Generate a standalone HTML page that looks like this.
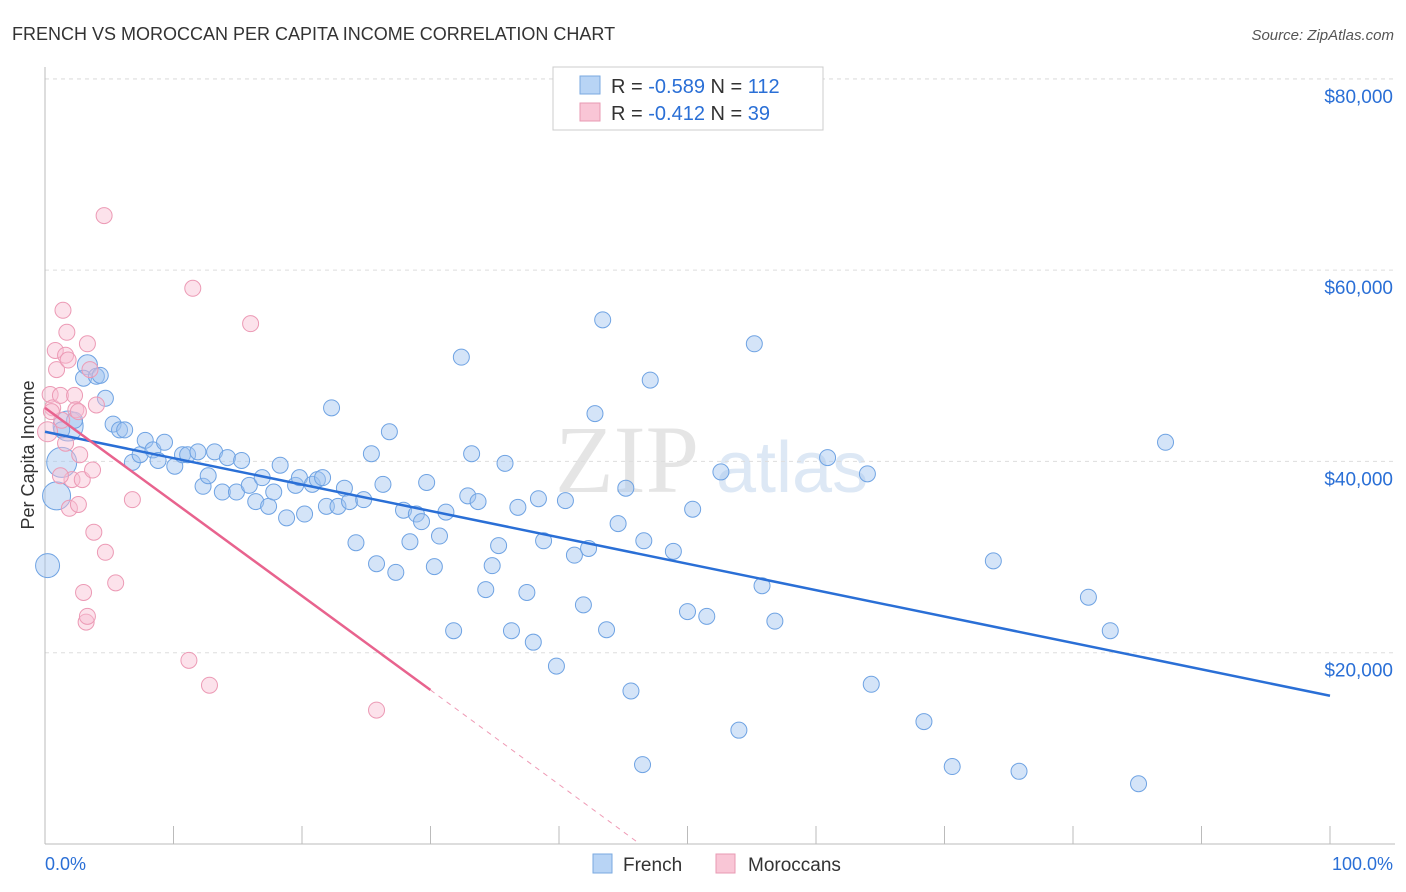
<!DOCTYPE html>
<html><head><meta charset="utf-8"><style>
body{margin:0;background:#fff;font-family:"Liberation Sans",sans-serif;}
svg{display:block}
</style></head><body>
<svg id="chart" width="1406" height="892">
<text x="12" y="40" font-size="18" fill="#333">FRENCH VS MOROCCAN PER CAPITA INCOME CORRELATION CHART</text>
<text x="1394" y="40" font-size="15" fill="#555" font-style="italic" text-anchor="end">Source: ZipAtlas.com</text>
<text x="555" y="492" font-size="96" fill="#e5e5e5" font-family="Liberation Serif,serif">ZIP</text>
<text x="716" y="492" font-size="72" fill="#dde8f5">atlas</text>
<text x="34" y="455" font-size="18" fill="#333" text-anchor="middle" transform="rotate(-90 34 455)">Per Capita Income</text>
<g id="grid"></g><g id="pts"></g><g id="trend"></g>
<g>
<rect x="553" y="67" width="270" height="63" fill="#fff" stroke="#ccc"/>
<rect x="580" y="76" width="20" height="18" fill="#b8d4f5" stroke="#7aa9e0"/>
<rect x="580" y="103" width="20" height="18" fill="#f9c6d6" stroke="#e89ab3"/>
<text x="611" y="93" font-size="20" fill="#333">R = <tspan fill="#2a6fd6">-0.589</tspan>   N = <tspan fill="#2a6fd6">112</tspan></text>
<text x="611" y="120" font-size="20" fill="#333">R =  <tspan fill="#2a6fd6">-0.412</tspan>   N =  <tspan fill="#2a6fd6">39</tspan></text>
</g>
<rect x="593" y="854" width="19" height="19" fill="#b8d4f5" stroke="#7aa9e0"/>
<text x="623" y="871" font-size="19" fill="#333">French</text>
<rect x="716" y="854" width="19" height="19" fill="#f9c6d6" stroke="#e89ab3"/>
<text x="748" y="871" font-size="19" fill="#333">Moroccans</text>
<text x="45" y="870" font-size="18" fill="#2a6fd6">0.0%</text>
<text x="1393" y="870" font-size="18" fill="#2a6fd6" text-anchor="end">100.0%</text>
</svg>
<script>
const yTicks=[20000,40000,60000,80000];
const yTickLabels=["$20,000","$40,000","$60,000","$80,000"];
const frenchX=[0.2,0.9,1.3,1.8,3.3,3.0,4.0,4.7,5.3,5.8,6.2,6.8,7.4,7.8,8.4,8.8,9.3,10.1,10.7,11.1,11.9,12.3,12.7,13.2,13.8,14.2,14.9,15.3,15.9,16.4,16.9,17.4,17.8,18.3,18.8,19.5,20.2,19.8,20.8,21.2,21.6,21.9,22.3,22.8,23.3,23.7,24.2,24.8,25.4,25.8,26.3,26.8,27.3,27.9,28.4,28.9,29.3,29.7,30.3,30.7,31.2,31.8,32.4,32.9,33.2,33.7,34.3,34.8,35.3,35.8,36.3,36.8,37.5,38.0,38.8,38.4,39.8,40.5,41.2,41.9,42.3,42.8,43.4,43.7,44.6,45.2,45.6,46.5,46.6,47.1,48.9,50.0,50.4,51.5,52.6,54.0,55.2,55.8,56.8,60.9,64.0,64.3,68.4,70.6,73.8,75.8,81.2,82.9,85.1,87.2,1.3,4.3,2.3];
const frenchY=[29.1,36.4,39.9,43.7,50.1,48.7,48.9,46.6,43.9,43.3,43.3,39.9,40.7,42.2,41.2,40.1,42.0,39.5,40.7,40.7,41.0,37.4,38.5,41.0,36.8,40.4,36.8,40.1,37.5,35.8,38.3,35.3,36.8,39.6,34.1,37.5,34.5,38.3,37.6,38.1,38.3,35.3,45.6,35.3,37.2,35.8,31.5,36.0,40.8,29.3,37.6,43.1,28.4,34.9,31.6,34.5,33.7,37.8,29.0,32.2,34.7,22.3,50.9,36.4,40.8,35.8,26.6,29.1,31.2,39.8,22.3,35.2,26.3,21.1,31.7,36.1,18.6,35.9,30.2,25.0,30.9,45.0,54.8,22.4,33.5,37.2,16.0,8.3,31.7,48.5,30.6,24.3,35.0,23.8,38.9,11.9,52.3,27.0,23.3,40.4,38.7,16.7,12.8,8.1,29.6,7.6,25.8,22.3,6.3,42.0,43.3,49.0,44.3];
const frenchSize=[12,14,15,15,10];
const morX=[0.2,0.4,0.6,0.8,0.9,1.2,1.3,1.4,1.6,1.7,1.8,1.9,2.1,2.3,2.4,2.6,2.7,2.9,3.0,3.2,3.3,3.3,3.5,3.7,3.8,4.0,4.6,4.7,5.5,6.8,11.2,11.5,12.8,16.0,25.8,1.2,0.5,1.6,2.6];
const morY=[43.1,47.0,45.6,51.6,49.6,46.9,44.3,55.8,51.1,53.5,50.6,35.1,38.1,46.9,45.4,35.5,40.7,38.1,26.3,23.2,23.8,52.3,49.6,39.1,32.6,45.9,65.7,30.5,27.3,36.0,19.2,58.1,16.6,54.4,14.0,38.5,45.2,41.9,45.2];
const frenchTrend=[[0,43.1],[100,15.5]];
const morTrendSolid=[[0,45.6],[30,16.1]];
const morTrendDash=[[30,16.1],[46.3,0]];
const NS="http://www.w3.org/2000/svg";
const X=v=>45+v*12.85, Y=k=>844-k*1000/104.55*1;
const Yd=d=>Y(d/1000);
function mk(t,a,p){const e=document.createElementNS(NS,t);for(const k in a)e.setAttribute(k,a[k]);p.appendChild(e);return e;}
const grid=document.getElementById('grid');
yTicks.forEach((t,i)=>{
 const l=mk('line',{x1:45,x2:1395,y1:Yd(t),y2:Yd(t),stroke:'#ddd','stroke-dasharray':'4,4'},grid);
 
 
 const tx=mk('text',{x:1393,y:Yd(t)+24,'font-size':19,fill:'#2a6fd6','text-anchor':'end'},grid);
 tx.textContent=yTickLabels[i];
 
 
});
const topl=mk('line',{x1:45,x2:1395,y1:79,y2:79,stroke:'#ddd','stroke-dasharray':'4,4'},grid);


const ya=mk('line',{x1:45,x2:45,y1:67,y2:844,stroke:'#bbb'},grid);


const xa=mk('line',{x1:45,x2:1395,y1:844,y2:844,stroke:'#bbb'},grid);


for(let i=0;i<=10;i++){const t=mk('line',{x1:X(i*10),x2:X(i*10),y1:826,y2:844,stroke:'#bbb'},grid);
 
 }
const pts=document.getElementById('pts');
frenchX.forEach((x,i)=>{const c=mk('circle',{cx:X(x),cy:Y(frenchY[i]),r:frenchSize[i]||8,fill:'rgba(160,196,240,0.45)',stroke:'#6fa3e3','stroke-width':1},pts);
 
 });
morX.forEach((x,i)=>{const c=mk('circle',{cx:X(x),cy:Y(morY[i]),r:i==0?10:8,fill:'rgba(248,190,210,0.45)',stroke:'#ec9ab5','stroke-width':1},pts);
 
 });
const tr=document.getElementById('trend');
const a=mk('line',{x1:X(frenchTrend[0][0]),y1:Y(frenchTrend[0][1]),x2:X(frenchTrend[1][0]),y2:Y(frenchTrend[1][1]),stroke:'#2a6fd6','stroke-width':2.5},tr);


const b=mk('line',{x1:X(morTrendSolid[0][0]),y1:Y(morTrendSolid[0][1]),x2:X(morTrendSolid[1][0]),y2:Y(morTrendSolid[1][1]),stroke:'#e8638e','stroke-width':2.5},tr);


const d=mk('line',{x1:X(morTrendDash[0][0]),y1:Y(morTrendDash[0][1]),x2:X(morTrendDash[1][0]),y2:Y(morTrendDash[1][1]),stroke:'#ef9ab5','stroke-width':1,'stroke-dasharray':'5,5'},tr);


</script>
</body></html>
